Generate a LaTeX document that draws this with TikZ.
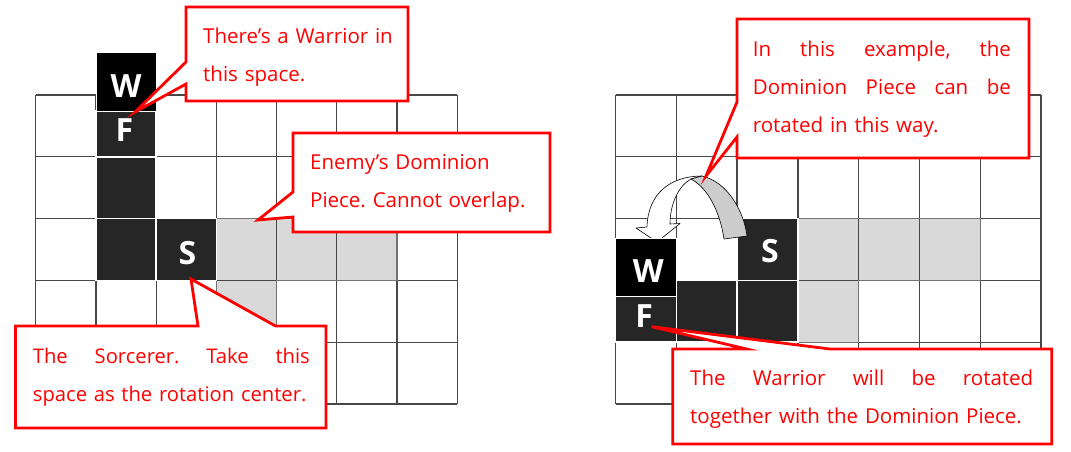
\documentclass[tikz,border=0pt]{standalone}
\usepackage{fontspec}
\setmainfont{Open Sans}
\definecolor{piecegray}{HTML}{262626}
\definecolor{foegray}{HTML}{D9D9D9}
\definecolor{notered}{HTML}{FF0000}
\newcommand{\notefont}{\fontsize{20.5}{38}\selectfont\frenchspacing}
\newcommand{\tokenfont}{\fontsize{32}{32}\selectfont\bfseries}
\newcommand{\fullline}[2]{\leavevmode\hbox to #1{#2}}
\tikzset{
    gridline/.style={draw=black!72, line width=1.3pt},
    foecell/.style={fill=foegray, draw=white, line width=1pt},
    foeline/.style={draw=black!55, line width=1.4pt},
    darkcell/.style={fill=piecegray, draw=white, line width=1.5pt},
    warcell/.style={fill=black, draw=white, line width=1pt},
    token/.style={text=white, font=\tokenfont, inner sep=0pt},
    note/.style={draw=notered, fill=white, line width=2.8pt, line join=miter},
    notetext/.style={text=notered, font=\notefont, inner sep=0pt, anchor=base west, align=left},
    ribbon/.style={draw=black, line width=0.6pt, line join=round}
}

\begin{document}
\begin{tikzpicture}[x=1pt, y=-1pt]
        \useasboundingbox [fill=white] (0, 0) rectangle (1071, 451);

        \begin{scope}[shift={(35.8, 95)}, x=60.2pt, y=-61.8pt]
            \foreach \col/\row in {3/2, 4/2, 5/2, 3/3}
                \filldraw [foecell] (\col, \row) rectangle +(1, 1);
            \foreach \i in {0, ..., 7}
                \draw [gridline] (\i, 0) -- (\i, 5);
            \foreach \j in {0, ..., 5}
                \draw [gridline] (0, \j) -- (7, \j);
            \draw [foeline] (3, 2) -- (6, 2) -- (6, 3) -- (4, 3) -- (4, 4) -- (3, 4) -- cycle;
            \foreach \col/\row in {1/1, 1/2, 2/2}
                \filldraw [darkcell] (\col, \row) rectangle +(1, 1);
            \filldraw [darkcell] (1, 0.26) rectangle (2, 1);
            \filldraw [warcell] (1, -0.68) rectangle (2, 0.26);
            \node [token] (wleft) at (1.5, -0.15) {W};
            \node [token] (fleft) at (1.47, 0.57) {F};
            \node [token] (sleft) at (2.52, 2.55) {S};
        \end{scope}

        \begin{scope}[shift={(615.5, 95)}, x=60.8pt, y=-61.8pt]
            \foreach \col/\row in {3/2, 4/2, 5/2, 3/3}
                \filldraw [foecell] (\col, \row) rectangle +(1, 1);
            \foreach \i in {0, ..., 7}
                \draw [gridline] (\i, 0) -- (\i, 5);
            \foreach \j in {0, ..., 5}
                \draw [gridline] (0, \j) -- (7, \j);
            \draw [foeline] (3, 2) -- (6, 2) -- (6, 3) -- (4, 3) -- (4, 4) -- (3, 4) -- cycle;
            \foreach \col/\row in {2/2, 1/3, 2/3}
                \filldraw [darkcell] (\col, \row) rectangle +(1, 1);
            \node [token] (sright) at (2.54, 2.52) {S};
        \end{scope}

        \coordinate (topin) at (691, 179);
        \coordinate (topout) at (702, 176);
        \filldraw [ribbon, fill=white] (topout) .. controls (672, 176) and (648, 192) .. (647, 227)
            -- (636, 228) -- (657, 242) -- (680, 223.5) -- (670, 224)
            .. controls (670, 205) and (678, 186) .. (topin) -- cycle;
        \filldraw [ribbon, fill=black!20] (topout) .. controls (728, 182) and (744, 212) .. (747, 236)
            -- (724, 239) .. controls (720, 212) and (708, 188) .. (topin) -- cycle;

        \begin{scope}[shift={(615.5, 95)}, x=60.8pt, y=-61.8pt]
            \filldraw [darkcell] (0, 3.26) rectangle (1, 4);
            \filldraw [warcell] (0, 2.32) rectangle (1, 3.26);
            \node [token] (wright) at (0.54, 2.85) {W};
            \node [token] (fright) at (0.47, 3.58) {F};
        \end{scope}

        \coordinate (wtip) at (135, 112);
        \filldraw [note] (186, 7) -- (408, 7) -- (408, 101) -- (186, 101) -- (186, 84) -- (wtip) -- (186, 62) -- cycle;
        \node [notetext, text width=200pt] (warnote) at (203, 43) {There’s a Warrior in\\this space.};

        \coordinate (foetip) at (258, 220);
        \filldraw [note] (293, 133) -- (550, 133) -- (550, 232) -- (293, 232) -- (293, 217) -- (foetip) -- (293, 192) -- cycle;
        \node [notetext, text width=230pt] (foenote) at (310, 169) {Enemy’s Dominion\\Piece. Cannot overlap.};

        \coordinate (sortip) at (191, 279);
        \filldraw [note] (15.5, 326) -- (198, 326) -- (sortip) -- (275.5, 326) -- (326, 326) -- (326, 428) -- (15.5, 428) -- cycle;
        \node [notetext, text width=290pt, font=\fontsize{20.2}{38}\selectfont] (sornote) at (32.7, 363)
            {\fullline{277pt}{The\hfill Sorcerer.\hfill Take\hfill this}\\space as the rotation center.};

        \coordinate (rottip) at (706, 176);
        \filldraw [note] (737, 19) -- (1029, 19) -- (1029, 158) -- (737, 158) -- (737, 137) -- (rottip) -- (737, 102) -- cycle;
        \node [notetext, text width=258pt] (rotnote) at (752.7, 56)
            {\fullline{258pt}{In\hfill this\hfill example,\hfill the}\\\fullline{258pt}{Dominion\hfill Piece\hfill can\hfill be}\\rotated in this way.};

        \coordinate (wartip) at (651.7, 326.7);
        \filldraw [note] (672.7, 349) -- (746.7, 349) -- (wartip) -- (830, 349) -- (1051.7, 349) -- (1051.7, 444) -- (672.7, 444) -- cycle;
        \node [notetext, text width=343pt] (warrnote) at (690, 385)
            {\fullline{343pt}{The\hfill Warrior\hfill will\hfill be\hfill rotated}\\together with the Dominion Piece.};
\end{tikzpicture}
\end{document}
